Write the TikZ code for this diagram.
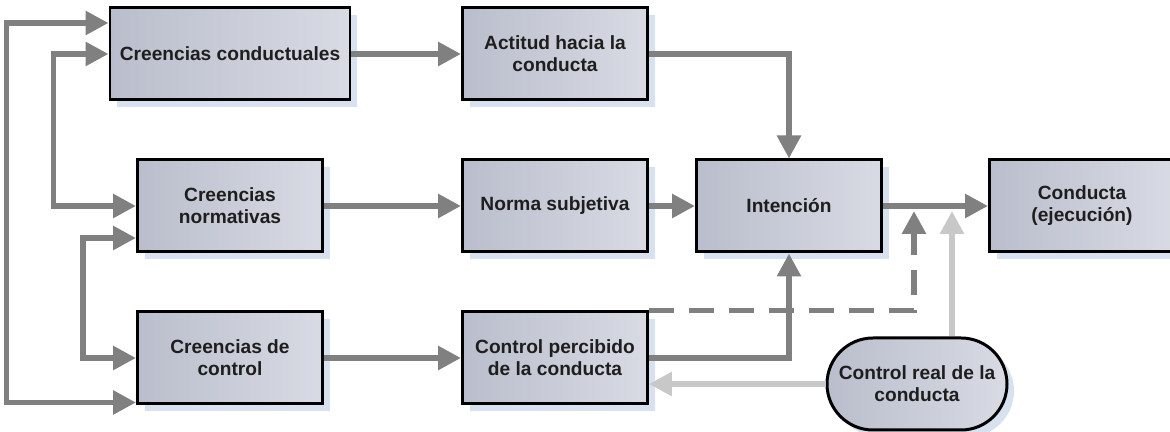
\documentclass[tikz,border=0pt]{standalone}
\usepackage{fontspec}
\setmainfont{Liberation Sans}
\usetikzlibrary{%
  shapes.misc,
  arrows.meta,
  positioning,
  calc,
  shadows
}
\definecolor{lineGray}{RGB}{128,128,128}
\definecolor{lightGray}{RGB}{200,200,200}
\definecolor{boxLeft}{RGB}{186,190,204}
\definecolor{boxRight}{RGB}{216,219,228}
\definecolor{shadowBlue}{RGB}{216,225,240}
\definecolor{textDark}{RGB}{30,30,30}
\tikzstyle{beliefblock}=[draw, line width=1.7pt, rectangle, left color=boxLeft, right color=boxRight, minimum height=1.84cm, minimum width=3.7cm, inner sep=1mm, align=center, text=textDark, font=\fontsize{10.9pt}{12.5pt}\selectfont\bfseries, drop shadow={shadow xshift=0.14cm, shadow yshift=-0.14cm, fill=shadowBlue, opacity=1}]
\tikzstyle{roundblock}=[beliefblock, rounded rectangle, minimum width=3.8cm]
\tikzstyle{link}=[draw=lineGray, line width=3.3pt]
\tikzstyle{lightlink}=[draw=lightGray, line width=3.3pt]
\tikzstyle{dashlink}=[link, dash pattern=on 0.5cm off 0.3cm]

\begin{document}
\begin{tikzpicture}[auto, node distance=3.04cm, >={Triangle[length=0.46cm, width=0.46cm]}]
        \useasboundingbox (0,0) rectangle (23.4,8.64);
        \node[beliefblock, minimum width=4.8cm] (cc) at (4.6,7.56) {Creencias conductuales};
        \node[beliefblock, below of=cc] (cn) {Creencias\\normativas};
        \node[beliefblock, below of=cn] (cdc) {Creencias de\\control};
        \node[beliefblock, node distance=6.5cm, right of=cc] (act) {Actitud hacia la\\conducta};
        \node[beliefblock, node distance=6.5cm, right of=cn] (ns) {Norma subjetiva};
        \node[beliefblock, node distance=6.5cm, right of=cdc] (cp) {Control percibido\\de la conducta};
        \node[beliefblock, node distance=4.68cm, right of=ns] (int) {Intención};
        \node[beliefblock, node distance=5.86cm, right of=int] (cond) {Conducta\\(ejecución)};
        \node[roundblock] (cr) at (18.34,0.96) {Control real de la\\conducta};
        \coordinate (m1) at ([xshift=0.62cm, yshift=-0.1cm]int.east);
        \coordinate (m2) at ([xshift=1.38cm, yshift=-0.1cm]int.east);
        % loops between the beliefs
        \draw[link, <->] ([yshift=0.62cm]cc.west) -- ++(-2.04,0) |- ([yshift=0.06cm]cdc.south west);
        \draw[link, <->] (cc.west) -- ++(-1.1,0) |- (cn.west);
        \draw[link, <->] ([yshift=-0.64cm]cn.west) -- ++(-1.06,0) |- (cdc.west);
        \draw[link, ->] (cc) -- (act);
        \draw[link, ->] (cn) -- (ns);
        \draw[link, ->] (cdc) -- (cp);
        \draw[link, ->] (act.east) -| (int.north);
        \draw[link, ->] (ns) -- (int);
        \draw[link, ->] (cp.east) -| (int.south);
        \draw[link, ->] (int) -- (cond);
        \draw[dashlink, ->] (cp.north east) -| (m1);
        \draw[lightlink, ->] (cr.north -| m2) -- (m2);
        \draw[lightlink, ->] (cr.west) -- (cr.west -| cp.east);
      \end{tikzpicture}
\end{document}
